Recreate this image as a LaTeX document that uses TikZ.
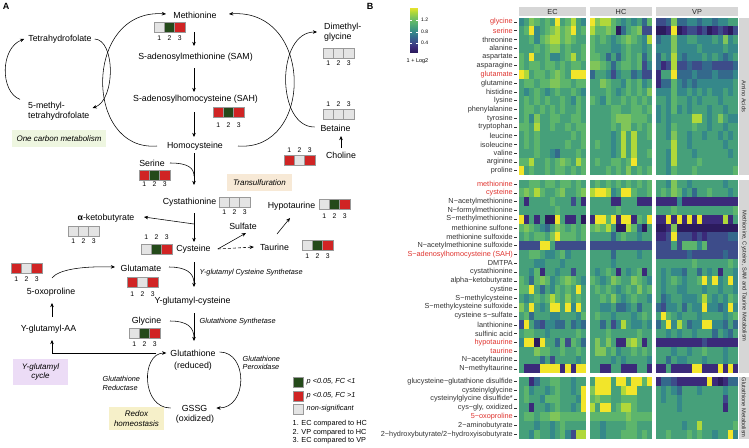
\documentclass[tikz,border=0pt]{standalone}
\usepackage{fontspec}
\setmainfont{Liberation Sans}
\usetikzlibrary{arrows.meta,calc}
\definecolor{vir0}{HTML}{2C1B5E}
\definecolor{vir1}{HTML}{3B2A7A}
\definecolor{vir2}{HTML}{3D4C8A}
\definecolor{vir3}{HTML}{34698C}
\definecolor{vir4}{HTML}{35888A}
\definecolor{vir5}{HTML}{46A07A}
\definecolor{vir6}{HTML}{5DB56C}
\definecolor{vir7}{HTML}{80C559}
\definecolor{vir8}{HTML}{B0D83A}
\definecolor{vir9}{HTML}{F2E52A}
\definecolor{cred}{HTML}{D02424}
\definecolor{cgrn}{HTML}{244A1A}
\definecolor{cgry}{HTML}{E4E4E4}
\definecolor{hred}{HTML}{E0342F}
\definecolor{htxt}{HTML}{333333}
\definecolor{strip}{HTML}{D6D6D6}
\definecolor{tgreen}{HTML}{EEF6E0}
\definecolor{tbeige}{HTML}{F7E9D6}
\definecolor{tlilac}{HTML}{ECDCF6}
\definecolor{tyellow}{HTML}{F6F0C9}
\newcommand\myfs[1]{\fontsize{#1}{#1}\selectfont}
\newcommand\myfsl[2]{\fontsize{#1}{#2}\selectfont}
\newcommand\tribox[7]{%
  \foreach \cc [count=\i] in {#4,#5,#6}{%
    \node[cell, fill=\cc] (#1b\i) at ({#2+(\i-0.5)*10.33},{#3+5}) {};
    \node[num] (#1n\i) at ({#2+(\i-0.5)*10.33},{#7}) {\i};
  }}
\newcommand\hrow[7]{%
  \foreach \v [count=\c from 0] in {#4}{\fill[vir\v] ({519+\c*5.154},{#1}) rectangle ++(5.5,9);}
  \foreach \v [count=\c from 0] in {#5}{\fill[vir\v] ({590+\c*5.167},{#1}) rectangle ++(5.5,9);}
  \foreach \v [count=\c from 0] in {#6}{\fill[vir\v] ({656+\c*5.125},{#1}) rectangle ++(5.4,9);}
  \node[hlab, text=#3] (#7) at (513,{#1+4.4}) {#2};
  \draw[htick] ($(#7.east)+(1.2,0)$) -- ++(3,0);
}
\begin{document}
\begin{tikzpicture}[x=1pt,y=-1pt,
  lbl/.style={font=\myfs{8.8}, inner sep=1pt},
  ital/.style={font=\myfs{7.3}\itshape, inner sep=0.5pt},
  num/.style={font=\myfs{6.8}, inner sep=0pt},
  cell/.style={draw=black!40, line width=0.45pt, minimum width=10.33pt, minimum height=10pt, inner sep=0pt},
  arr/.style={line width=0.55pt, -{Stealth[length=4.2pt,width=3.6pt]}},
  conn/.style={line width=0.55pt},
  tagbox/.style={font=\myfsl{8}{9.8}\itshape, align=center, inner sep=0pt},
  hlab/.style={font=\myfs{7.3}, anchor=east, inner sep=0pt},
  htick/.style={line width=0.4pt, draw=htxt},
  stripc/.style={fill=strip, inner sep=0pt, font=\myfs{7.3}, text=black!85}
]
\useasboundingbox (0,0) rectangle (749,447);
\fill[white] (0,0) rectangle (749,447);

% ---------------- Panel A ----------------
\node[font=\myfs{9}\bfseries, inner sep=0pt] (labA) at (6,6) {A};

% tag boxes
\node[tagbox, fill=tgreen, minimum width=94pt, minimum height=17pt] (onec) at (59,138.5) {One carbon metabolism};
\node[tagbox, fill=tbeige, minimum width=65pt, minimum height=17pt] (trans) at (259.5,182.5) {Transulfuration};
\node[tagbox, fill=tlilac, minimum width=55pt, minimum height=26pt] (gcyc) at (40.5,372) {Y-glutamyl\\cycle};
\node[tagbox, fill=tyellow, minimum width=55pt, minimum height=23pt] (redox) at (136.5,418.5) {Redox\\homeostasis};

% metabolites
\node[lbl] (met) at (195,15) {Methionine};
\node[lbl] (sam) at (195.5,57) {S-adenosylmethionine (SAM)};
\node[lbl] (sah) at (195.5,99) {S-adenosylhomocysteine (SAH)};
\node[lbl] (hcy) at (195,146) {Homocysteine};
\node[lbl] (thf) at (60,39) {Tetrahydrofolate};
\node[lbl, align=left, anchor=west, font=\myfsl{8.8}{9.6}] (mthf) at (27,111) {5-methyl-\\tetrahydrofolate};
\node[lbl, align=left, anchor=west, font=\myfsl{8.8}{10}] (dmg) at (323,32) {Dimethyl-\\glycine};
\node[lbl] (bet) at (335.5,128) {Betaine};
\node[lbl] (cho) at (341,155) {Choline};
\node[lbl] (ser) at (152,163) {Serine};
\node[lbl] (cth) at (189.5,202) {Cystathionine};
\node[lbl] (akb) at (106,218) {{\bfseries α}-ketobutyrate};
\node[lbl] (cys) at (193.5,249) {Cysteine};
\node[lbl] (sulf) at (243,226) {Sulfate};
\node[lbl] (tau) at (274.5,247) {Taurine};
\node[lbl] (hyp) at (291.5,206) {Hypotaurine};
\node[lbl] (glu) at (141,268) {Glutamate};
\node[lbl] (oxo) at (51,292) {5-oxoproline};
\node[lbl] (gcys) at (192.5,301) {Y-glutamyl-cysteine};
\node[lbl] (gaa) at (48.5,329) {Y-glutamyl-AA};
\node[lbl] (gly) at (146.5,321) {Glycine};
\node[lbl] (gsh) at (193,353) {Glutathione};
\node[lbl] (gshr) at (193,366) {(reduced)};
\node[lbl] (gssg) at (194.5,408) {GSSG};
\node[lbl] (gssgo) at (195,419.5) {(oxidized)};

% enzyme labels
\node[ital, anchor=west] (e1) at (199,273) {Y-glutamyl Cysteine Synthetase};
\node[ital, anchor=west] (e2) at (199,322) {Glutathione Synthetase};
\node[ital, anchor=west, align=left, font=\myfsl{7.3}{8.3}\itshape] (e3) at (242,363) {Glutathione\\Peroxidase};
\node[ital, anchor=west, align=left, font=\myfsl{7.3}{9}\itshape] (e4) at (102,383.5) {Glutathione\\Reductase};

% fold-change boxes
\tribox{met}{154}{22}{cgry}{cgrn}{cred}{38}
\tribox{sah}{213}{107}{cred}{cgrn}{cred}{125}
\tribox{dmg}{323}{48}{cgry}{cgry}{cgry}{63}
\tribox{bet}{323}{109}{cgry}{cgry}{cgry}{104}
\tribox{cho}{284}{155}{cred}{cgry}{cred}{150}
\tribox{ser}{139}{170}{cred}{cgrn}{cred}{184.5}
\tribox{cth}{219}{197}{cgry}{cgry}{cgry}{212}
\tribox{akb}{68}{226}{cgry}{cgry}{cgry}{241}
\tribox{cys}{141}{244}{cgry}{cgrn}{cred}{237.5}
\tribox{hyp}{319}{199}{cgry}{cgrn}{cred}{216}
\tribox{tau}{302}{240}{cgry}{cgrn}{cred}{256}
\tribox{glu}{127}{277}{cred}{cgry}{cred}{294}
\tribox{oxo}{11}{263}{cred}{cgry}{cred}{279}
\tribox{gly}{129}{328}{cgry}{cgrn}{cred}{344}

% coordinates
\coordinate (spine) at (194,0);
\coordinate (ax) at (52,0);
\coordinate (j1) at (194,176);
\coordinate (j2) at (194,224);
\coordinate (j3) at (194,283);
\coordinate (j4) at (194,338);

% main spine
\draw[arr] ($(spine|-met)+(0,17)$) -- ($(spine|-sam)+(0,-11)$);
\draw[arr] ($(spine|-sam)+(0,11)$) -- ($(spine|-sah)+(0,-7)$);
\draw[arr] ($(spine|-sah)+(0,13)$) -- ($(spine|-hcy)+(0,-9)$);
\draw[arr] ($(spine|-hcy)+(0,7)$) -- ($(spine|-cth)+(0,-17)$);
\draw[arr] ($(spine|-cth)+(0,11)$) -- ($(spine|-cys)+(0,-7)$);
\draw[arr] ($(spine|-cys)+(0,13)$) -- ($(spine|-gcys)+(0,-14)$);
\draw[arr] ($(spine|-gcys)+(0,12)$) -- ($(spine|-gsh)+(0,-12)$);

% methionine cycle
\draw[arr] ($(hcy)+(-38,0)$) .. controls (83.5,152) and (83.5,8) .. ($(met)+(-29,-1)$);
\draw[arr] ($(hcy)+(43,0)$) .. controls (314,152) and (314,8) .. ($(met)+(34,-1)$);
\draw[arr] ($(bet)+(-21,-1)$) .. controls (276,127) and (276,32) .. ($(dmg.west)+(-6,0)$);
\draw[arr] ($(cho)+(0,-7)$) -- ($(cho|-bet)+(0,8)$);

% folate cycle
\draw[arr] ($(thf.east)+(2,0)$) .. controls (115.5,40) and (115.5,100) .. ($(mthf.east)+(2,-3)$);
\draw[arr] ($(mthf.north west)+(-7,-1.5)$) .. controls (0,92) and (0,48) .. ($(thf.west)+(-3,0)$);

% side inputs
\draw[conn] ($(ser)+(18,0)$) .. controls (188,163) and (194,168) .. (j1);
\draw[arr] (j2) -- ($(akb)+(38,-1)$);
\draw[arr] ([xshift=6pt]cys.east) -- ($(sulf)+(3,7)$);
\draw[arr, dash pattern=on 3pt off 2pt] ([xshift=6pt]cys.east) -- ([xshift=-5pt]tau.west);
\draw[arr] ($(tau)+(2.5,-13)$) -- ($(hyp)+(-1.5,12)$);
\draw[conn] ($(glu)+(28,-1)$) .. controls (186,267) and (194,273) .. (j3);
\draw[conn] ($(gly)+(23.5,0)$) .. controls (187,321) and (194,327) .. (j4);
\draw[arr] ($(oxo)+(1,-14)$) .. controls (58,270) and (80,266) .. ($(glu)+(-26,-1)$);
\draw[arr] ($(ax|-gaa)+(0,-12)$) -- ($(ax|-oxo)+(0,11)$);
\draw[arr] ([xshift=-13pt]gsh.west) -| ($(ax|-gaa)+(0,11)$);

% glutathione cycle
\draw[arr] ($(gsh.east)+(3,-1)$) .. controls (248,352) and (248,408) .. ($(gssg.east)+(8,0)$);
\draw[arr] ($(gssg.west)+(-10,0)$) .. controls (141,408) and (141,353) .. ($(gsh.west)+(-3,0)$);

% legend
\node[cell, fill=cgrn] (lg1) at (298,382) {};
\node[cell, fill=cred] (lg2) at (298,396) {};
\node[cell, fill=cgry] (lg3) at (298,409) {};
\node[ital, anchor=west] (lg1t) at (306,382) {p <0.05, FC <1};
\node[ital, anchor=west] (lg2t) at (306,396) {p <0.05, FC >1};
\node[ital, anchor=west] (lg3t) at (306,409) {non-significant};
\node[font=\myfs{7.3}, anchor=west, inner sep=0pt] (k1) at (292.5,424) {1. EC compared to HC};
\node[font=\myfs{7.3}, anchor=west, inner sep=0pt] (k2) at (292.5,432.5) {2. VP compared to HC};
\node[font=\myfs{7.3}, anchor=west, inner sep=0pt] (k3) at (292.5,441) {3. EC compared to VP};

% ---------------- Panel B ----------------
\node[font=\myfs{9}\bfseries, inner sep=0pt] (labB) at (370,6) {B};

% colour bar
\foreach \k [evaluate=\k as \kn using int(\k+1)] in {0,...,8}{
  \foreach \j [evaluate=\j as \p using int(\j*20)] in {0,...,4}{
    \fill[fill={vir\kn!\p!vir\k}] (410,{53-\k*5-\j-1.2}) rectangle (418,{53-\k*5-\j});
  }}
\foreach \yy in {20,32,43}{
  \draw[white, line width=0.4pt] (410,\yy) -- (411.6,\yy);
  \draw[white, line width=0.4pt] (416.4,\yy) -- (418,\yy);}
\node[font=\myfs{5}, anchor=west, inner sep=0pt] (cb1) at (421,20) {1.2};
\node[font=\myfs{5}, anchor=west, inner sep=0pt] (cb2) at (421,32) {0.8};
\node[font=\myfs{5}, anchor=west, inner sep=0pt] (cb3) at (421,43) {0.4};
\node[font=\myfs{5.5}, inner sep=0pt] (cbt) at (417.5,61) {1 + Log2};

% facet strips
\node[stripc, minimum width=67pt, minimum height=9pt] (fEC) at (552.5,11.5) {EC};
\node[stripc, minimum width=62pt, minimum height=9pt] (fHC) at (621,11.5) {HC};
\node[stripc, minimum width=82pt, minimum height=9pt] (fVP) at (697,11.5) {VP};
\fill[strip] (739,17.5) rectangle (749,175);
\fill[strip] (739,179.5) rectangle (749,373.1);
\fill[strip] (739,377) rectangle (749,438.6);
\node[font=\myfs{5.7}, rotate=-90, inner sep=0pt, text=black!85] (g1) at (744,96.25) {Amino Acids};
\node[font=\myfs{5.7}, rotate=-90, inner sep=0pt, text=black!85] (g2) at (744,276.3) {Methionine, Cysteine, SAM and Taurine Metabolism};
\node[font=\myfs{5.7}, rotate=-90, inner sep=0pt, text=black!85] (g3) at (744,407.8) {Glutathione Metabolism};

% heatmap rows: amino acids
\hrow{17.5}{glycine}{hred}{4,5,7,6,5,6,5,9,5,6,8,5,4}{9,7,8,8,6,5,4,5,4,5,3,6}{2,2,3,7,3,3,4,4,3,4,4,3,4,4,5,5}{ha0}
\hrow{26.25}{serine}{hred}{5,6,9,4,5,6,7,8,6,7,9,5,6}{8,6,6,7,6,0,3,5,6,7,2,2}{0,0,1,9,0,1,2,2,1,2,0,1,2,1,0,2}{ha1}
\hrow{35}{threonine}{htxt}{5,5,6,4,6,7,8,8,6,7,6,5,5}{6,5,6,5,4,5,6,7,6,5,4,8}{3,4,4,7,4,4,5,5,4,4,4,5,4,7,4,5}{ha2}
\hrow{43.75}{alanine}{htxt}{5,5,5,6,5,6,7,7,5,6,5,5,6}{6,5,5,5,4,4,5,6,5,5,4,5}{4,4,4,7,4,4,4,4,5,4,4,4,4,5,4,4}{ha3}
\hrow{52.5}{aspartate}{htxt}{6,5,9,5,5,6,4,4,5,6,8,5,6}{6,6,5,3,5,3,5,6,5,6,3,5}{3,5,4,8,4,3,4,4,4,5,4,5,4,3,4,5}{ha4}
\hrow{61.25}{asparagine}{htxt}{6,5,6,6,5,6,6,5,6,5,6,6,5}{7,7,6,5,3,5,6,6,5,6,2,4}{3,1,2,8,2,2,3,2,2,3,3,2,2,2,2,3}{ha5}
\hrow{70}{glutamate}{hred}{9,8,5,6,6,5,6,7,6,5,9,9,9}{3,5,5,4,2,4,5,5,3,4,2,2}{1,5,5,9,3,3,3,4,3,3,3,4,3,3,3,4}{ha6}
\hrow{78.75}{glutamine}{htxt}{5,6,6,5,6,6,7,7,6,6,5,6,6}{5,5,7,6,5,5,4,6,5,6,4,5}{1,3,3,6,4,3,4,3,4,4,4,4,4,4,4,5}{ha7}
\hrow{87.5}{histidine}{htxt}{5,4,5,6,5,4,5,6,5,5,6,5,4}{5,5,5,6,5,4,5,6,5,6,5,7}{4,4,4,6,4,4,5,4,5,4,5,4,4,5,4,5}{ha8}
\hrow{96.25}{lysine}{htxt}{5,6,5,6,5,6,5,5,6,5,4,6,5}{6,5,4,6,5,5,6,5,6,5,6,5}{5,5,4,6,5,5,4,5,4,5,5,5,4,5,5,5}{ha9}
\hrow{105}{phenylalanine}{htxt}{5,6,6,5,6,5,6,5,6,5,5,6,5}{5,5,5,5,6,6,5,5,6,6,5,6}{4,5,4,6,4,5,4,5,5,5,4,5,5,4,5,5}{ha10}
\hrow{113.75}{tyrosine}{htxt}{5,6,4,7,5,5,6,6,5,5,6,6,5}{5,5,5,5,6,7,7,7,6,6,6,5}{4,5,4,5,5,5,5,8,8,5,4,5,7,5,4,4}{ha11}
\hrow{122.5}{tryptophan}{htxt}{6,6,5,8,5,5,6,5,5,6,5,6,6}{5,5,5,5,6,5,7,7,5,6,5,6}{5,5,4,6,5,5,5,6,5,5,4,5,5,4,5,5}{ha12}
\hrow{131.25}{leucine}{htxt}{5,6,5,6,5,5,5,5,5,5,6,5,6}{5,5,5,5,4,5,8,5,8,5,5,6}{5,5,4,7,5,5,4,5,5,4,5,5,4,5,4,5}{ha13}
\hrow{140}{isoleucine}{htxt}{5,6,5,6,5,5,5,5,5,6,5,5,6}{5,6,5,5,4,5,8,5,8,5,5,5}{5,5,5,8,5,5,4,5,5,5,5,5,5,4,5,5}{ha14}
\hrow{148.75}{valine}{htxt}{5,5,5,6,5,5,4,3,5,5,5,6,5}{5,5,5,5,4,5,8,5,8,5,5,6}{5,5,4,8,5,5,5,4,5,5,5,5,5,5,4,5}{ha15}
\hrow{157.5}{arginine}{htxt}{6,6,8,5,5,6,5,6,7,6,5,8,6}{5,6,5,5,6,6,5,6,9,5,5,5}{5,5,4,8,5,5,5,5,6,5,5,5,5,5,5,5}{ha16}
\hrow{166.25}{proline}{htxt}{9,5,6,5,5,6,5,6,6,5,6,5,6}{5,5,5,6,5,6,5,7,5,6,5,6}{5,5,4,6,5,5,5,6,5,5,5,5,5,5,5,6}{ha17}

% methionine, cysteine, SAM and taurine metabolism
\hrow{179.5}{methionine}{hred}{5,5,6,6,5,6,6,5,6,6,5,6,5}{5,6,5,6,5,6,5,6,5,6,5,6}{5,5,4,7,5,5,4,5,5,5,5,5,5,4,5,5}{hb0}
\hrow{188.3}{cysteine}{hred}{6,7,6,8,6,5,5,6,7,5,5,6,7}{8,9,9,8,4,5,9,9,6,5,5,6}{5,6,5,7,6,4,5,3,5,5,6,5,5,5,4,5}{hb1}
\hrow{197.1}{N−acetylmethionine}{htxt}{5,1,5,5,5,5,6,5,5,5,2,5,1}{5,5,5,5,1,1,5,5,5,1,1,1}{1,1,1,1,4,1,1,1,1,1,1,1,1,1,1,1}{hb2}
\hrow{205.9}{N−formylmethionine}{htxt}{5,5,5,5,5,5,5,6,5,5,5,5,5}{5,5,5,5,5,6,5,5,5,5,5,5}{5,5,5,6,5,5,5,5,5,5,5,5,5,5,5,6}{hb3}
\hrow{214.7}{S−methylmethionine}{htxt}{9,1,5,1,5,0,0,9,5,1,1,5,0}{1,9,9,6,9,1,9,9,1,6,5,9}{1,1,9,1,9,1,9,1,9,1,1,1,1,8,1,5}{hb4}
\hrow{223.5}{methionine sulfone}{htxt}{6,7,6,5,4,3,5,7,6,5,6,5,6}{6,7,6,8,5,0,0,8,6,3,0,5}{0,0,1,7,0,0,0,0,0,0,0,0,0,0,0,0}{hb5}
\hrow{232.3}{methionine sulfoxide}{htxt}{5,6,5,6,6,5,7,9,6,6,6,5,6}{5,5,5,5,3,5,6,5,5,4,5,5}{1,1,2,9,2,2,2,1,2,1,2,2,2,2,3,3}{hb6}
\hrow{241.1}{N−acetylmethionine sulfoxide}{htxt}{2,2,2,2,9,9,5,2,2,2,2,2,2}{2,2,2,2,2,2,2,2,2,2,2,2}{2,2,2,5,2,6,6,6,4,6,2,2,2,2,2,2}{hb7}
\hrow{249.9}{S−adenosylhomocysteine (SAH)}{hred}{5,5,6,6,5,4,4,5,6,4,5,5,5}{5,5,5,5,3,5,5,5,5,4,5,5}{2,2,2,2,2,2,3,2,2,2,2,2,2,3,2,2}{hb8}
\hrow{258.7}{DMTPA}{htxt}{5,5,5,4,4,5,5,5,4,5,5,5,5}{5,5,5,5,4,5,5,5,5,5,5,5}{5,5,5,5,5,5,5,6,5,5,5,5,5,5,6,5}{hb9}
\hrow{267.5}{cystathionine}{htxt}{5,5,4,6,1,5,5,4,5,5,2,5,5}{5,4,5,6,5,1,5,4,5,6,1,5}{5,4,5,4,4,3,5,5,3,5,4,5,1,5,5,4}{hb10}
\hrow{276.3}{alpha−ketobutyrate}{htxt}{6,5,3,6,7,6,4,5,6,7,6,5,4}{6,5,4,5,7,6,5,5,7,6,5,4}{5,4,5,6,5,4,5,5,6,9,5,9,4,5,9,4}{hb11}
\hrow{285.1}{cystine}{htxt}{6,6,9,5,3,5,4,6,5,6,5,9,5}{5,6,5,6,5,4,5,6,5,7,5,6}{5,4,5,5,4,4,5,5,5,4,5,5,4,5,5,4}{hb12}
\hrow{293.9}{S−methylcysteine}{htxt}{5,4,5,6,5,6,8,6,5,7,5,6,5}{5,5,6,5,7,5,4,5,6,5,5,4}{5,3,4,5,5,4,4,4,5,8,5,4,5,4,6,5}{hb13}
\hrow{302.7}{S−methylcysteine sulfoxide}{htxt}{7,5,9,5,4,5,9,9,5,9,4,9,5}{5,5,4,4,5,3,3,4,5,3,5,5}{3,2,4,4,5,3,5,4,4,9,4,4,3,4,9,4}{hb14}
\hrow{311.5}{cysteine s−sulfate}{htxt}{5,6,3,5,5,5,4,4,5,5,5,4,6}{5,6,5,5,4,5,5,5,4,5,6,5}{5,9,6,5,4,5,5,5,4,5,5,5,5,4,5,6}{hb15}
\hrow{320.3}{lanthionine}{htxt}{2,9,5,3,2,4,4,3,3,5,3,4,3}{5,5,3,5,2,4,8,5,4,4,5,4}{3,5,9,4,8,5,3,4,4,9,9,4,4,3,5,3}{hb16}
\hrow{329.1}{sulfinic acid}{htxt}{5,6,6,5,5,4,5,5,5,5,5,6,5}{5,5,5,6,5,5,5,5,5,6,5,5}{5,5,4,5,4,5,5,4,5,5,5,3,5,4,3,5}{hb17}
\hrow{337.9}{hypotaurine}{hred}{4,9,9,0,9,5,5,3,6,2,6,5,3}{5,7,5,7,5,1,1,7,8,6,1,5}{1,1,1,1,1,1,1,1,1,2,1,1,1,1,1,1}{hb18}
\hrow{346.7}{taurine}{hred}{5,5,5,7,6,6,5,5,6,5,5,6,5}{5,7,7,5,6,4,5,5,6,5,6,5}{5,5,5,4,5,5,4,5,5,6,5,5,5,4,5,5}{hb19}
\hrow{355.5}{N−acetyltaurine}{htxt}{5,5,5,5,3,5,2,5,5,5,5,4,5}{5,5,5,5,4,5,4,5,5,5,5,4}{5,5,3,5,4,4,5,5,5,4,5,5,5,4,5,5}{hb20}
\hrow{364.3}{N−methyltaurine}{htxt}{5,1,1,1,9,9,9,9,1,9,1,9,9}{5,5,1,1,5,5,1,1,1,5,5,1}{1,1,5,1,1,1,1,9,9,1,1,1,9,1,9,1}{hb21}

% glutathione metabolism
\hrow{377}{glucysteine−glutathione disulfide}{htxt}{5,5,1,3,5,5,6,6,5,5,4,5,5}{5,9,9,9,5,9,9,5,9,9,6,9}{1,3,3,2,1,1,1,1,1,1,9,1,0,1,3,3}{hc0}
\hrow{385.8}{cysteinylglycine}{htxt}{5,6,4,5,5,4,5,6,5,5,4,5,9}{7,9,9,9,5,5,8,9,9,5,5,5}{5,4,5,4,3,5,5,5,4,5,5,5,5,4,5,5}{hc1}
\hrow{394.6}{cysteinylglycine disulfide*}{htxt}{5,6,5,5,4,6,6,6,5,5,5,4,9}{6,7,6,6,5,5,6,6,6,5,5,5}{5,4,5,5,4,5,5,5,5,5,5,5,5,2,5,5}{hc2}
\hrow{403.4}{cys−gly, oxidized}{htxt}{5,5,1,5,5,4,5,6,5,5,4,5,9}{8,5,9,9,5,6,8,8,6,5,5,5}{5,5,5,5,4,5,5,5,5,5,5,5,5,1,5,5}{hc3}
\hrow{412.2}{5−oxoproline}{hred}{5,6,6,5,6,6,7,7,6,6,6,6,6}{6,6,6,6,6,6,6,7,6,6,6,6}{5,5,5,5,5,5,5,5,5,5,5,5,5,5,5,5}{hc4}
\hrow{421}{2−aminobutyrate}{htxt}{5,5,5,4,5,5,4,5,6,5,5,5,5}{5,5,4,5,5,5,5,6,6,5,5,5}{5,5,5,5,5,4,5,5,8,5,5,5,5,5,5,6}{hc5}
\hrow{429.8}{2−hydroxybutyrate/2−hydroxyisobutyrate}{htxt}{5,5,4,6,5,5,4,5,6,4,2,8,8}{5,5,4,5,5,5,6,6,6,5,6,5}{5,5,6,5,5,5,6,5,6,5,5,4,5,5,9,4}{hc6}
\end{tikzpicture}
\end{document}
